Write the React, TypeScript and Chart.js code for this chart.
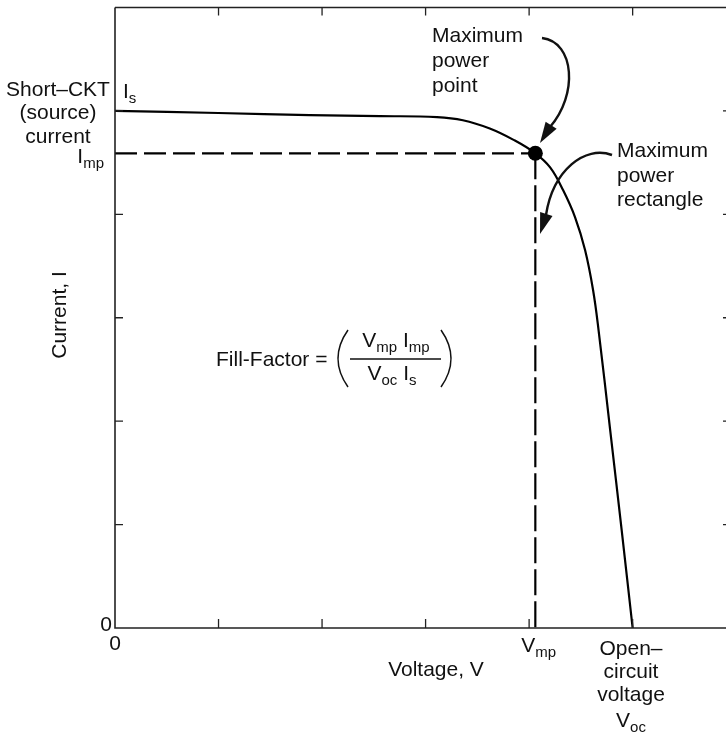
import React, { useEffect, useRef } from 'react';
import { Chart, registerables } from 'chart.js';

Chart.register(...registerables);

// I–V curve of a solar cell (arbitrary units)
const voltage = [0, 1.0, 1.88, 2.56, 3.11, 3.36, 3.62, 3.85, 4.06, 4.203, 4.329, 4.444, 4.541, 4.618, 4.671, 4.783, 4.894, 5.0];
const current = [5.0, 4.98, 4.96, 4.95, 4.94, 4.91, 4.83, 4.72, 4.59, 4.454, 4.232, 3.971, 3.652, 3.266, 2.879, 1.913, 0.947, 0];
const vmp = 4.06;
const imp = 4.59;
const xTicks = [1, 2, 3, 4, 5];
const yTicks = [1, 2, 3, 4, 5];
const xMin = 0;
const xMax = 5.95;
const yMin = 0;
const yMax = 6;
const zeroLabel = '0';

const FONT = '"Liberation Sans", Arial, Helvetica, sans-serif';
const FS = 21;
const SUB = 15;

type Part = { t: string; sub?: boolean };

function richWidth(ctx: CanvasRenderingContext2D, parts: Part[], size: number, subSize: number) {
  let w = 0;
  for (const p of parts) {
    ctx.font = `${p.sub ? subSize : size}px ${FONT}`;
    w += ctx.measureText(p.t).width;
  }
  return w;
}

function drawRich(
  ctx: CanvasRenderingContext2D,
  parts: Part[],
  x: number,
  y: number,
  align: 'left' | 'center' | 'right' = 'left',
  size = FS,
  subSize = SUB,
  subDrop = 5
) {
  const w = richWidth(ctx, parts, size, subSize);
  let cx = align === 'left' ? x : align === 'center' ? x - w / 2 : x - w;
  ctx.textAlign = 'left';
  ctx.textBaseline = 'alphabetic';
  for (const p of parts) {
    ctx.font = `${p.sub ? subSize : size}px ${FONT}`;
    ctx.fillText(p.t, cx, p.sub ? y + subDrop : y);
    cx += ctx.measureText(p.t).width;
  }
}

function drawArrow(
  ctx: CanvasRenderingContext2D,
  s: [number, number],
  c1: [number, number],
  c2: [number, number],
  e: [number, number],
  tip: [number, number]
) {
  ctx.beginPath();
  ctx.moveTo(s[0], s[1]);
  ctx.bezierCurveTo(c1[0], c1[1], c2[0], c2[1], e[0], e[1]);
  ctx.stroke();
  const dx = tip[0] - e[0];
  const dy = tip[1] - e[1];
  const len = Math.hypot(dx, dy);
  const ux = dx / len;
  const uy = dy / len;
  const L = 21;
  const W = 6.5;
  const bx = tip[0] - ux * L;
  const by = tip[1] - uy * L;
  ctx.beginPath();
  ctx.moveTo(tip[0], tip[1]);
  ctx.lineTo(bx - uy * W, by + ux * W);
  ctx.lineTo(bx + uy * W, by - ux * W);
  ctx.closePath();
  ctx.fill();
}

const annotPlugin = {
  id: 'annotations',
  afterDatasetsDraw(chart: any) {
    const { ctx, chartArea: a, scales } = chart;
    const sx = scales.x;
    const sy = scales.y;
    ctx.save();
    ctx.fillStyle = '#111';
    ctx.strokeStyle = '#222';

    // frame: left axis, bottom axis, top border
    ctx.lineWidth = 1.6;
    ctx.beginPath();
    ctx.moveTo(a.left, a.top);
    ctx.lineTo(a.left, a.bottom);
    ctx.lineTo(a.right, a.bottom);
    ctx.moveTo(a.left, a.top);
    ctx.lineTo(a.right, a.top);
    ctx.stroke();

    // inward tick marks
    ctx.lineWidth = 1.3;
    ctx.beginPath();
    for (const v of xTicks) {
      const px = sx.getPixelForValue(v);
      ctx.moveTo(px, a.top);
      ctx.lineTo(px, a.top + 8);
      ctx.moveTo(px, a.bottom);
      ctx.lineTo(px, a.bottom - 9);
    }
    for (const v of yTicks) {
      const py = sy.getPixelForValue(v);
      ctx.moveTo(a.left, py);
      ctx.lineTo(a.left + 8, py);
      ctx.moveTo(a.right, py);
      ctx.lineTo(a.right - 8, py);
    }
    ctx.stroke();

    // zero labels
    ctx.font = `${FS}px ${FONT}`;
    ctx.textBaseline = 'alphabetic';
    ctx.textAlign = 'right';
    ctx.fillText(zeroLabel, sx.getPixelForValue(0) - 3, sy.getPixelForValue(0) + 3);
    ctx.textAlign = 'center';
    ctx.fillText(zeroLabel, sx.getPixelForValue(0), sy.getPixelForValue(0) + 22);

    // axis titles
    ctx.fillText('Voltage, V', 436, 676);
    ctx.save();
    ctx.translate(66, 315);
    ctx.rotate(-Math.PI / 2);
    ctx.textAlign = 'center';
    ctx.fillText('Current, I', 0, 0);
    ctx.restore();

    // left side labels
    ctx.textAlign = 'center';
    ctx.fillText('Short–CKT', 58, 96);
    ctx.fillText('(source)', 58, 119);
    ctx.fillText('current', 58, 143);
    drawRich(ctx, [{ t: 'I' }, { t: 'mp', sub: true }], 104, 163, 'right');
    drawRich(ctx, [{ t: 'I' }, { t: 's', sub: true }], 123, 98, 'left');

    // bottom labels
    drawRich(ctx, [{ t: 'V' }, { t: 'mp', sub: true }], sx.getPixelForValue(vmp) - 14, 652, 'left');
    ctx.font = `${FS}px ${FONT}`;
    ctx.textAlign = 'center';
    ctx.fillText('Open–', 631, 655);
    ctx.fillText('circuit', 631, 678);
    ctx.fillText('voltage', 631, 701);
    drawRich(ctx, [{ t: 'V' }, { t: 'oc', sub: true }], 631, 727, 'center');

    // annotation texts
    ctx.font = `${FS}px ${FONT}`;
    ctx.textAlign = 'left';
    ctx.fillText('Maximum', 432, 42);
    ctx.fillText('power', 432, 67);
    ctx.fillText('point', 432, 92);
    ctx.fillText('Maximum', 617, 157);
    ctx.fillText('power', 617, 182);
    ctx.fillText('rectangle', 617, 206);

    // arrows
    ctx.lineWidth = 2.4;
    ctx.strokeStyle = '#111';
    drawArrow(ctx, [542, 38], [575, 42], [578, 95], [550, 127], [540, 143]);
    drawArrow(ctx, [612, 155], [585, 145], [553, 170], [546, 215], [540, 234]);

    // fill-factor formula
    ctx.fillStyle = '#111';
    ctx.font = `${FS}px ${FONT}`;
    ctx.textAlign = 'left';
    ctx.fillText('Fill-Factor =', 216, 366);
    ctx.lineWidth = 1.5;
    ctx.beginPath();
    ctx.moveTo(348, 330);
    ctx.quadraticCurveTo(328, 358.5, 348, 387);
    ctx.moveTo(441, 330);
    ctx.quadraticCurveTo(461, 358.5, 441, 387);
    ctx.moveTo(350, 359);
    ctx.lineTo(441, 359);
    ctx.stroke();
    drawRich(ctx, [{ t: 'V' }, { t: 'mp', sub: true }, { t: ' I' }, { t: 'mp', sub: true }], 396, 347, 'center');
    drawRich(ctx, [{ t: 'V' }, { t: 'oc', sub: true }, { t: ' I' }, { t: 's', sub: true }], 392, 380, 'center');

    ctx.restore();
  },
};

export default function App() {
  const canvasRef = useRef<HTMLCanvasElement | null>(null);

  useEffect(() => {
    const canvas = canvasRef.current;
    if (!canvas) return;
    const curve = voltage.map((v, i) => ({ x: v, y: current[i] }));
    const chart = new Chart(canvas, {
      type: 'line',
      data: {
        datasets: [
          {
            data: curve,
            borderColor: '#000',
            borderWidth: 2.2,
            pointRadius: 0,
            tension: 0.4,
            fill: false,
          },
          {
            data: [
              { x: xMin, y: imp },
              { x: vmp, y: imp },
            ],
            borderColor: '#000',
            borderWidth: 2.2,
            borderDash: [22, 7],
            pointRadius: 0,
            fill: false,
          },
          {
            data: [
              { x: vmp, y: imp },
              { x: vmp, y: yMin },
            ],
            borderColor: '#000',
            borderWidth: 2.2,
            borderDash: [26, 6],
            pointRadius: 0,
            fill: false,
          },
          {
            data: [{ x: vmp, y: imp }],
            showLine: false,
            pointRadius: 7.5,
            pointBackgroundColor: '#000',
            pointBorderColor: '#000',
            pointBorderWidth: 0,
          },
        ],
      },
      options: {
        responsive: false,
        animation: false,
        events: [],
        layout: { padding: { left: 115, top: 7, right: 9, bottom: 107 } },
        plugins: { legend: { display: false }, tooltip: { enabled: false } },
        scales: {
          x: { type: 'linear', min: xMin, max: xMax, display: false },
          y: { type: 'linear', min: yMin, max: yMax, display: false },
        },
      },
      plugins: [annotPlugin],
    } as any);
    return () => chart.destroy();
  }, []);

  return (
    <div
      style={{
        position: 'absolute',
        left: 0,
        top: 0,
        width: 726,
        height: 735,
        overflow: 'hidden',
        background: '#fff',
      }}
    >
      <canvas ref={canvasRef} width={740} height={735} style={{ width: 740, height: 735, display: 'block' }} />
    </div>
  );
}
